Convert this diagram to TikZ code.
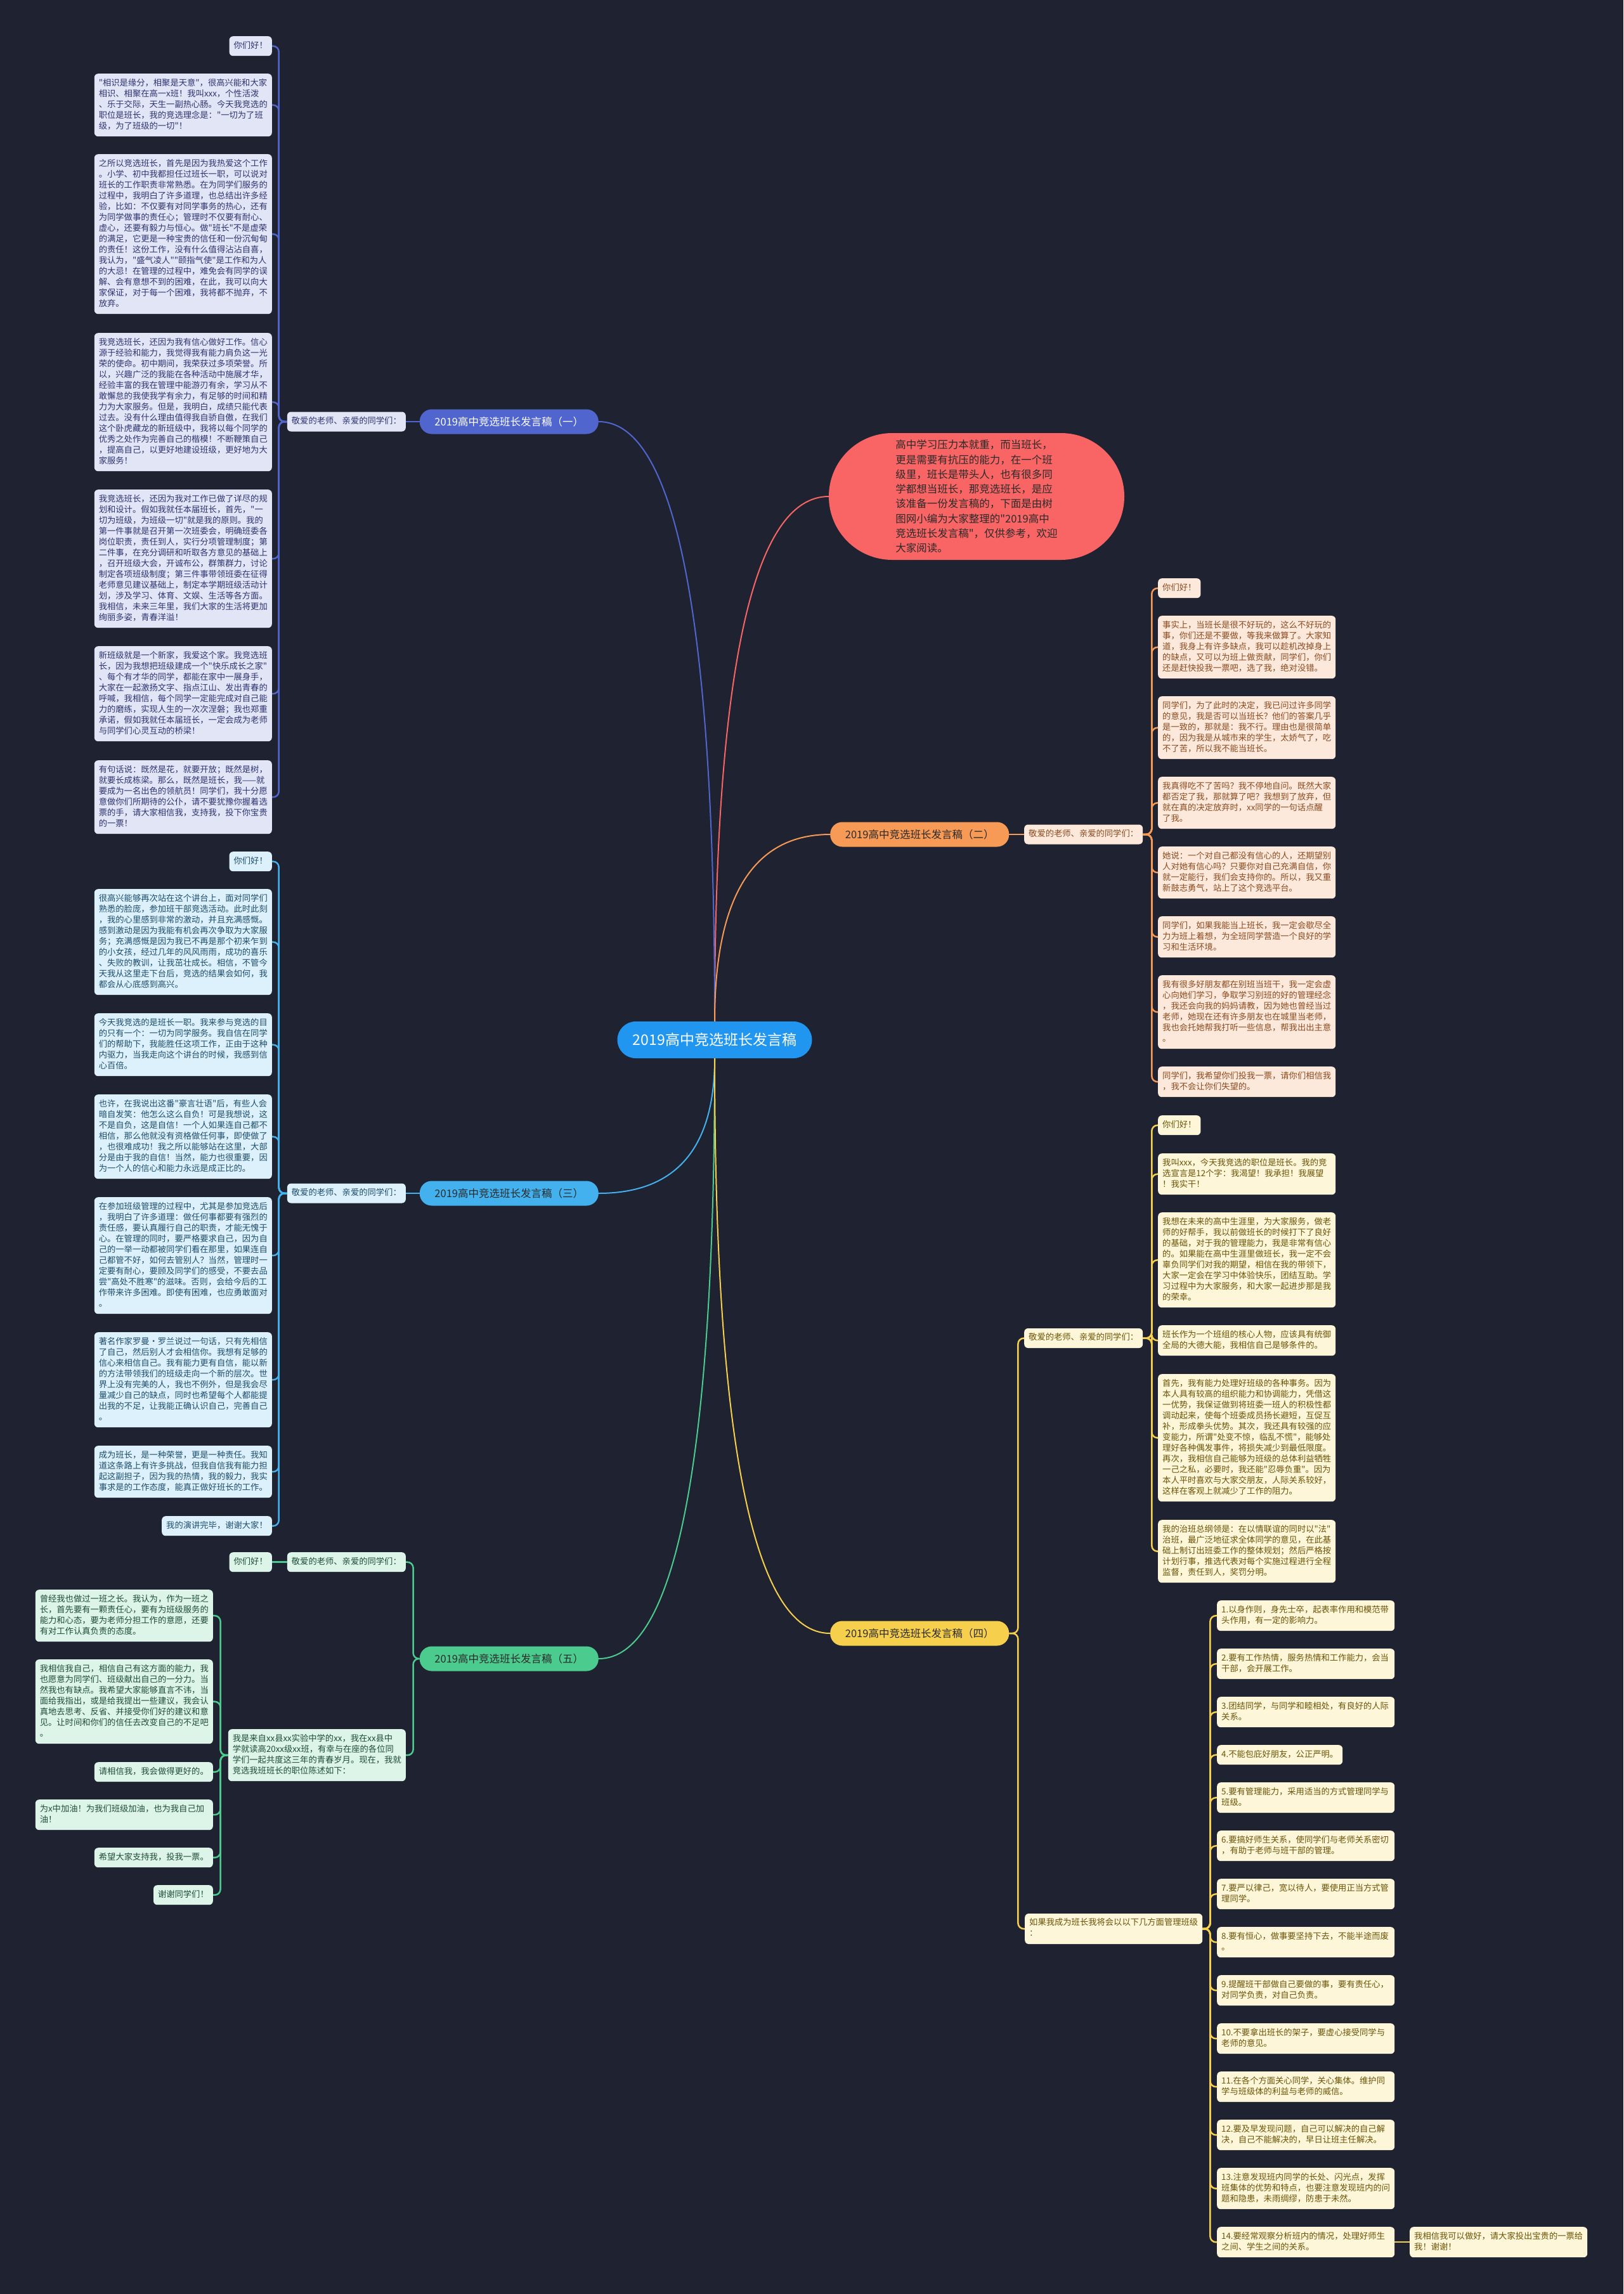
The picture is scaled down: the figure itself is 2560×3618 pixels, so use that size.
\documentclass[tikz,border=0pt]{standalone}
\usepackage{fontspec}
\newfontfamily\cjk{Noto Sans CJK SC}
\definecolor{bg}{HTML}{1F2230}
\definecolor{rootc}{HTML}{2196F0}
\definecolor{introc}{HTML}{F96464}
\definecolor{introt}{HTML}{2B2B2B}
\definecolor{brT}{HTML}{2B2B2B}
\definecolor{oneB}{HTML}{5065CE}
\definecolor{oneF}{HTML}{E2E5F6}
\definecolor{oneT}{HTML}{2E3470}
\definecolor{twoB}{HTML}{F79A55}
\definecolor{twoF}{HTML}{FCE9DB}
\definecolor{twoT}{HTML}{8B4A1F}
\definecolor{thrB}{HTML}{43B1EE}
\definecolor{thrF}{HTML}{DCF1FC}
\definecolor{thrT}{HTML}{1E4D6B}
\definecolor{fouB}{HTML}{F6D04D}
\definecolor{fouF}{HTML}{FDF6D8}
\definecolor{fouT}{HTML}{6B5408}
\definecolor{fivB}{HTML}{4CCB8F}
\definecolor{fivF}{HTML}{DDF4E8}
\definecolor{fivT}{HTML}{1F4D36}
\tikzset{
  box/.style={rounded corners=6pt, inner xsep=7pt, inner ysep=7pt, align=left,
    font=\cjk\fontsize{13.3}{17}\selectfont,
    execute at begin node=\strut, execute at end node=\strut},
  wbox/.style={box, text width=266pt},
  sone/.style={fill=oneF, text=oneT},
  stwo/.style={fill=twoF, text=twoT},
  sthr/.style={fill=thrF, text=thrT},
  sfou/.style={fill=fouF, text=fouT},
  sfiv/.style={fill=fivF, text=fivT},
  branch/.style={rounded corners=19pt, minimum height=39pt, minimum width=282pt,
    inner xsep=10pt, inner ysep=0pt, font=\cjk\fontsize{16.5}{20}\selectfont},
  lnk/.style={line width=2.5pt, rounded corners=9pt},
  mainlnk/.style={line width=2pt},
}
\begin{document}
\begin{tikzpicture}[x=1pt,y=-1pt]
\useasboundingbox (0,0) rectangle (2560,3618);
\fill[bg] (0,0) rectangle (2560,3618);

% ---------- Section 1 ----------
\node[box,sone,anchor=north east] (a1) at (429,57) {你们好！};
\node[wbox,sone,anchor=north east] (a2) at (429,116) {"相识是缘分，相聚是天意"，很高兴能和大家\\相识、相聚在高一x班！我叫xxx，个性活泼\\、乐于交际，天生一副热心肠。今天我竞选的\\职位是班长，我的竞选理念是："一切为了班\\级，为了班级的一切"！};
\node[wbox,sone,anchor=north east] (a3) at (429,243) {之所以竞选班长，首先是因为我热爱这个工作\\。小学、初中我都担任过班长一职，可以说对\\班长的工作职责非常熟悉。在为同学们服务的\\过程中，我明白了许多道理，也总结出许多经\\验，比如：不仅要有对同学事务的热心，还有\\为同学做事的责任心；管理时不仅要有耐心、\\虚心，还要有毅力与恒心。做"班长"不是虚荣\\的满足，它更是一种宝贵的信任和一份沉甸甸\\的责任！这份工作，没有什么值得沾沾自喜，\\我认为，"盛气凌人""颐指气使"是工作和为人\\的大忌！在管理的过程中，难免会有同学的误\\解、会有意想不到的困难，在此，我可以向大\\家保证，对于每一个困难，我将都不抛弃，不\\放弃。};
\node[wbox,sone,anchor=north east] (a4) at (429,525) {我竞选班长，还因为我有信心做好工作。信心\\源于经验和能力，我觉得我有能力肩负这一光\\荣的使命。初中期间，我荣获过多项荣誉。所\\以，兴趣广泛的我能在各种活动中施展才华，\\经验丰富的我在管理中能游刃有余，学习从不\\敢懈怠的我使我学有余力，有足够的时间和精\\力为大家服务。但是，我明白，成绩只能代表\\过去。没有什么理由值得我自骄自傲，在我们\\这个卧虎藏龙的新班级中，我将以每个同学的\\优秀之处作为完善自己的楷模！不断鞭策自己\\，提高自己，以更好地建设班级，更好地为大\\家服务！};
\node[wbox,sone,anchor=north east] (a5) at (429,772) {我竞选班长，还因为我对工作已做了详尽的规\\划和设计。假如我就任本届班长，首先，"一\\切为班级，为班级一切"就是我的原则。我的\\第一件事就是召开第一次班委会，明确班委各\\岗位职责，责任到人，实行分项管理制度；第\\二件事，在充分调研和听取各方意见的基础上\\，召开班级大会，开诚布公，群策群力，讨论\\制定各项班级制度；第三件事带领班委在征得\\老师意见建议基础上，制定本学期班级活动计\\划，涉及学习、体育、文娱、生活等各方面。\\我相信，未来三年里，我们大家的生活将更加\\绚丽多姿，青春洋溢！};
\node[wbox,sone,anchor=north east] (a6) at (429,1019) {新班级就是一个新家，我爱这个家。我竞选班\\长，因为我想把班级建成一个"快乐成长之家"\\、每个有才华的同学，都能在家中一展身手，\\大家在一起激扬文字、指点江山、发出青春的\\呼喊，我相信，每个同学一定能完成对自己能\\力的磨练，实现人生的一次次涅磐；我也郑重\\承诺，假如我就任本届班长，一定会成为老师\\与同学们心灵互动的桥梁！};
\node[wbox,sone,anchor=north east] (a7) at (429,1199) {有句话说：既然是花，就要开放；既然是树，\\就要长成栋梁。那么，既然是班长，我——就\\要成为一名出色的领航员！同学们，我十分愿\\意做你们所期待的公仆，请不要犹豫你握着选\\票的手，请大家相信我，支持我，投下你宝贵\\的一票！};
\node[box,sone,anchor=east] (l1) at (640,665) {敬爱的老师、亲爱的同学们：};
\node[branch,fill=oneB,text=white,anchor=east] (b1) at (944,665) {2019高中竞选班长发言稿（一）};
\draw[lnk,oneB] (b1.west) -- (l1.east);
\foreach \n in {a1,a2,a3,a4,a5,a6,a7}
  {\draw[lnk,oneB] (l1.west) -- ++(-13,0) |- (\n.east);}

% ---------- Section 3 ----------
\node[box,sthr,anchor=north east] (c1) at (429,1343) {你们好！};
\node[wbox,sthr,anchor=north east] (c2) at (429,1402) {很高兴能够再次站在这个讲台上，面对同学们\\熟悉的脸庞，参加班干部竞选活动。此时此刻\\，我的心里感到非常的激动，并且充满感慨。\\感到激动是因为我能有机会再次争取为大家服\\务；充满感慨是因为我已不再是那个初来乍到\\的小女孩，经过几年的风风雨雨，成功的喜乐\\、失败的教训，让我茁壮成长。相信，不管今\\天我从这里走下台后，竞选的结果会如何，我\\都会从心底感到高兴。};
\node[wbox,sthr,anchor=north east] (c3) at (429,1598) {今天我竞选的是班长一职。我来参与竞选的目\\的只有一个：一切为同学服务。我自信在同学\\们的帮助下，我能胜任这项工作，正由于这种\\内驱力，当我走向这个讲台的时候，我感到信\\心百倍。};
\node[wbox,sthr,anchor=north east] (c4) at (429,1726) {也许，在我说出这番"豪言壮语"后，有些人会\\暗自发笑：他怎么这么自负！可是我想说，这\\不是自负，这是自信！一个人如果连自己都不\\相信，那么他就没有资格做任何事，即使做了\\，也很难成功！我之所以能够站在这里，大部\\分是由于我的自信！当然，能力也很重要，因\\为一个人的信心和能力永远是成正比的。};
\node[wbox,sthr,anchor=north east] (c5) at (429,1888) {在参加班级管理的过程中，尤其是参加竞选后\\，我明白了许多道理：做任何事都要有强烈的\\责任感，要认真履行自己的职责，才能无愧于\\心。在管理的同时，要严格要求自己，因为自\\己的一举一动都被同学们看在那里，如果连自\\己都管不好，如何去管别人？当然，管理时一\\定要有耐心，要顾及同学们的感受，不要去品\\尝"高处不胜寒"的滋味。否则，会给今后的工\\作带来许多困难。即使有困难，也应勇敢面对\\。};
\node[wbox,sthr,anchor=north east] (c6) at (429,2101) {著名作家罗曼·罗兰说过一句话，只有先相信\\了自己，然后别人才会相信你。我想有足够的\\信心来相信自己。我有能力更有自信，能以新\\的方法带领我们的班级走向一个新的层次。世\\界上没有完美的人，我也不例外，但是我会尽\\量减少自己的缺点，同时也希望每个人都能提\\出我的不足，让我能正确认识自己，完善自己\\。};
\node[wbox,sthr,anchor=north east] (c7) at (429,2280) {成为班长，是一种荣誉，更是一种责任。我知\\道这条路上有许多挑战，但我自信我有能力担\\起这副担子，因为我的热情，我的毅力，我实\\事求是的工作态度，能真正做好班长的工作。};
\node[box,sthr,anchor=north east] (c8) at (429,2391) {我的演讲完毕，谢谢大家！};
\node[box,sthr,anchor=east] (l3) at (640,1882) {敬爱的老师、亲爱的同学们：};
\node[branch,fill=thrB,text=brT,anchor=east] (b3) at (944,1882) {2019高中竞选班长发言稿（三）};
\draw[lnk,thrB] (b3.west) -- (l3.east);
\foreach \n in {c1,c2,c3,c4,c5,c6,c7,c8}
  {\draw[lnk,thrB] (l3.west) -- ++(-13,0) |- (\n.east);}

% ---------- Section 5 ----------
\node[box,sfiv,anchor=north east] (l5) at (640,2448) {敬爱的老师、亲爱的同学们：};
\node[box,sfiv,anchor=north east] (e0) at (429,2448) {你们好！};
\node[wbox,sfiv,anchor=north east] (m5) at (640,2727) {我是来自xx县xx实验中学的xx，我在xx县中\\学就读高20xx级xx班，有幸与在座的各位同\\学们一起共度这三年的青春岁月。现在，我就\\竞选我班班长的职位陈述如下：};
\node[wbox,sfiv,anchor=north east] (e1) at (336,2507) {曾经我也做过一班之长。我认为，作为一班之\\长，首先要有一颗责任心，要有为班级服务的\\能力和心态，要为老师分担工作的意愿，还要\\有对工作认真负责的态度。};
\node[wbox,sfiv,anchor=north east] (e2) at (336,2617) {我相信我自己，相信自己有这方面的能力，我\\也愿意为同学们、班级献出自己的一分力。当\\然我也有缺点。我希望大家能够直言不讳，当\\面给我指出，或是给我提出一些建议，我会认\\真地去思考、反省、并接受你们好的建议和意\\见。让时间和你们的信任去改变自己的不足吧\\。};
\node[box,sfiv,anchor=north east] (e3) at (336,2779) {请相信我，我会做得更好的。};
\node[wbox,sfiv,anchor=north east] (e4) at (336,2838) {为x中加油！为我们班级加油，也为我自己加\\油！};
\node[box,sfiv,anchor=north east] (e5) at (336,2914) {希望大家支持我，投我一票。};
\node[box,sfiv,anchor=north east] (e6) at (336,2973) {谢谢同学们！};
\node[branch,fill=fivB,text=brT,anchor=east] (b5) at (944,2616) {2019高中竞选班长发言稿（五）};
\draw[lnk,fivB] (b5.west) -- ++(-10,0) |- (l5.east);
\draw[lnk,fivB] (b5.west) -- ++(-10,0) |- (m5.east);
\draw[lnk,fivB] (l5.west) -- (e0.east);
\foreach \n in {e1,e2,e3,e4,e5,e6}
  {\draw[lnk,fivB] (m5.west) -- ++(-12,0) |- (\n.east);}

% ---------- Section 2 ----------
\node[box,stwo,anchor=north west] (d1) at (1826,912) {你们好！};
\node[wbox,stwo,anchor=north west] (d2) at (1826,971) {事实上，当班长是很不好玩的，这么不好玩的\\事，你们还是不要做，等我来做算了。大家知\\道，我身上有许多缺点，我可以趁机改掉身上\\的缺点，又可以为班上做贡献，同学们，你们\\还是赶快投我一票吧，选了我，绝对没错。};
\node[wbox,stwo,anchor=north west] (d3) at (1826,1098) {同学们，为了此时的决定，我已问过许多同学\\的意见，我是否可以当班长？他们的答案几乎\\是一致的，那就是：我不行。理由也是很简单\\的，因为我是从城市来的学生，太娇气了，吃\\不了苦，所以我不能当班长。};
\node[wbox,stwo,anchor=north west] (d4) at (1826,1225) {我真得吃不了苦吗？我不停地自问。既然大家\\都否定了我，那就算了吧？我想到了放弃，但\\就在真的决定放弃时，xx同学的一句话点醒\\了我。};
\node[wbox,stwo,anchor=north west] (d5) at (1826,1335) {她说：一个对自己都没有信心的人，还期望别\\人对她有信心吗？只要你对自己充满自信，你\\就一定能行，我们会支持你的。所以，我又重\\新鼓志勇气，站上了这个竞选平台。};
\node[wbox,stwo,anchor=north west] (d6) at (1826,1445) {同学们，如果我能当上班长，我一定会歇尽全\\力为班上着想，为全班同学营造一个良好的学\\习和生活环境。};
\node[wbox,stwo,anchor=north west] (d7) at (1826,1538) {我有很多好朋友都在别班当班干，我一定会虚\\心向她们学习，争取学习别班的好的管理经念\\，我还会向我的妈妈请教，因为她也曾经当过\\老师，她现在还有许多朋友也在城里当老师，\\我也会托她帮我打听一些信息，帮我出出主意\\。};
\node[wbox,stwo,anchor=north west] (d8) at (1826,1682) {同学们，我希望你们投我一票，请你们相信我\\，我不会让你们失望的。};
\node[box,stwo,anchor=west] (l2) at (1615,1316) {敬爱的老师、亲爱的同学们：};
\node[branch,fill=twoB,text=brT,anchor=west] (b2) at (1309,1316) {2019高中竞选班长发言稿（二）};
\draw[lnk,twoB] (b2.east) -- (l2.west);
\foreach \n in {d1,d2,d3,d4,d5,d6,d7,d8}
  {\draw[lnk,twoB] (l2.east) -- ++(14,0) |- (\n.west);}

% ---------- Section 4 ----------
\node[box,sfou,anchor=north west] (f1) at (1826,1759) {你们好！};
\node[wbox,sfou,anchor=north west] (f2) at (1826,1819) {我叫xxx，今天我竞选的职位是班长。我的竞\\选宣言是12个字：我渴望！我承担！我展望\\！我实干！};
\node[wbox,sfou,anchor=north west] (f3) at (1826,1912) {我想在未来的高中生涯里，为大家服务，做老\\师的好帮手，我以前做班长的时候打下了良好\\的基础，对于我的管理能力，我是非常有信心\\的。如果能在高中生涯里做班长，我一定不会\\辜负同学们对我的期望，相信在我的带领下，\\大家一定会在学习中体验快乐，团结互助。学\\习过程中为大家服务，和大家一起进步那是我\\的荣幸。};
\node[wbox,sfou,anchor=north west] (f4) at (1826,2090) {班长作为一个班组的核心人物，应该具有统御\\全局的大德大能，我相信自己是够条件的。};
\node[wbox,sfou,anchor=north west] (f5) at (1826,2167) {首先，我有能力处理好班级的各种事务。因为\\本人具有较高的组织能力和协调能力，凭借这\\一优势，我保证做到将班委一班人的积极性都\\调动起来，使每个班委成员扬长避短，互促互\\补，形成拳头优势。其次，我还具有较强的应\\变能力，所谓"处变不惊，临乱不慌"，能够处\\理好各种偶发事件，将损失减少到最低限度。\\再次，我相信自己能够为班级的总体利益牺牲\\一己之私，必要时，我还能"忍辱负重"。因为\\本人平时喜欢与大家交朋友，人际关系较好，\\这样在客观上就减少了工作的阻力。};
\node[wbox,sfou,anchor=north west] (f6) at (1826,2397) {我的治班总纲领是：在以情联谊的同时以"法"\\治班，最广泛地征求全体同学的意见，在此基\\础上制订出班委工作的整体规划；然后严格按\\计划行事，推选代表对每个实施过程进行全程\\监督，责任到人，奖罚分明。};
\node[box,sfou,anchor=west] (l4) at (1615,2110.5) {敬爱的老师、亲爱的同学们：};
\node[wbox,sfou,anchor=west] (r4) at (1616,3042) {如果我成为班长我将会以以下几方面管理班级\\：};
\node[wbox,sfou,anchor=north west] (g1) at (1919,2524) {1.以身作则，身先士卒，起表率作用和模范带\\头作用，有一定的影响力。};
\node[wbox,sfou,anchor=north west] (g2) at (1919,2600) {2.要有工作热情，服务热情和工作能力，会当\\干部，会开展工作。};
\node[wbox,sfou,anchor=north west] (g3) at (1919,2676) {3.团结同学，与同学和睦相处，有良好的人际\\关系。};
\node[box,sfou,anchor=north west] (g4) at (1919,2752) {4.不能包庇好朋友，公正严明。};
\node[wbox,sfou,anchor=north west] (g5) at (1919,2811) {5.要有管理能力，采用适当的方式管理同学与\\班级。};
\node[wbox,sfou,anchor=north west] (g6) at (1919,2887) {6.要搞好师生关系，使同学们与老师关系密切\\，有助于老师与班干部的管理。};
\node[wbox,sfou,anchor=north west] (g7) at (1919,2963) {7.要严以律己，宽以待人，要使用正当方式管\\理同学。};
\node[wbox,sfou,anchor=north west] (g8) at (1919,3039) {8.要有恒心，做事要坚持下去，不能半途而废\\。};
\node[wbox,sfou,anchor=north west] (g9) at (1919,3115) {9.提醒班干部做自己要做的事，要有责任心，\\对同学负责，对自己负责。};
\node[wbox,sfou,anchor=north west] (g10) at (1919,3191) {10.不要拿出班长的架子，要虚心接受同学与\\老师的意见。};
\node[wbox,sfou,anchor=north west] (g11) at (1919,3267) {11.在各个方面关心同学，关心集体。维护同\\学与班级体的利益与老师的威信。};
\node[wbox,sfou,anchor=north west] (g12) at (1919,3343) {12.要及早发现问题，自己可以解决的自己解\\决，自己不能解决的，早日让班主任解决。};
\node[wbox,sfou,anchor=north west] (g13) at (1919,3419) {13.注意发现班内同学的长处、闪光点，发挥\\班集体的优势和特点，也要注意发现班内的问\\题和隐患，未雨绸缪，防患于未然。};
\node[wbox,sfou,anchor=north west] (g14) at (1919,3512) {14.要经常观察分析班内的情况，处理好师生\\之间、学生之间的关系。};
\node[wbox,sfou,anchor=north west] (h1) at (2223,3512) {我相信我可以做好，请大家投出宝贵的一票给\\我！谢谢！};
\node[branch,fill=fouB,text=brT,anchor=west] (b4) at (1309,2576) {2019高中竞选班长发言稿（四）};
\draw[lnk,fouB] (b4.east) -- ++(14,0) |- (l4.west);
\draw[lnk,fouB] (b4.east) -- ++(14,0) |- (r4.west);
\foreach \n in {f1,f2,f3,f4,f5,f6}
  {\draw[lnk,fouB] (l4.east) -- ++(14,0) |- (\n.west);}
\foreach \n in {g1,g2,g3,g4,g5,g6,g7,g8,g9,g10,g11,g12,g13,g14}
  {\draw[lnk,fouB] (r4.east) -- ++(12,0) |- (\n.west);}
\draw[lnk,fouB] (g14.east) -- (h1.west);

% ---------- Intro ----------
\node[fill=introc, text=introt, rounded corners=100pt, minimum width=466pt, minimum height=200pt,
  align=left, font=\cjk\fontsize{16.5}{23.3}\selectfont] (intro) at (1540,783)
  {高中学习压力本就重，而当班长，\\更是需要有抗压的能力，在一个班\\级里，班长是带头人，也有很多同\\学都想当班长，那竞选班长，是应\\该准备一份发言稿的，下面是由树\\图网小编为大家整理的"2019高中\\竞选班长发言稿"，仅供参考，欢迎\\大家阅读。};

% ---------- Root and its connectors ----------
\node[fill=rootc, text=white, rounded corners=29pt, minimum width=307pt, minimum height=58pt,
  font=\cjk\fontsize{23}{28}\selectfont] (root) at (1127,1640) {2019高中竞选班长发言稿};
\begin{scope}[on background layer/.try]
\end{scope}
\draw[mainlnk,introc] (root.north) .. controls (1127,1059) and (1187,783) .. (intro.west);
\draw[mainlnk,oneB] (root.north) .. controls (1127,980) and (1066,665) .. (b1.east);
\draw[mainlnk,twoB] (root.north) .. controls (1127,1414) and (1188,1316) .. (b2.west);
\draw[mainlnk,thrB] (root.south) .. controls (1127,1811) and (1066,1882) .. (b3.east);
\draw[mainlnk,fivB] (root.south) .. controls (1127,2300) and (1066,2616) .. (b5.east);
\draw[mainlnk,fouB] (root.south) .. controls (1127,2274) and (1188,2576) .. (b4.west);
\end{tikzpicture}
\end{document}
